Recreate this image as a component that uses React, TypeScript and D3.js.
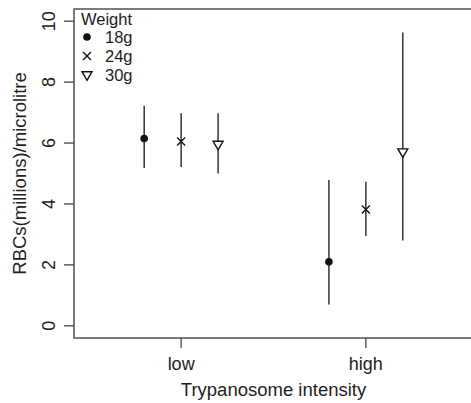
import { useRef, useEffect } from 'react';
import * as d3 from 'd3';

const W = 471;
const H = 403;

const intensities = ['low', 'high'];
const weights = ['18g', '24g', '30g'];
const shapes = ['dot', 'cross', 'triangle'];

// mean, lower, upper for each weight, per intensity
const lowMeans = [6.15, 6.05, 5.95];
const lowLower = [5.18, 5.21, 5.0];
const lowUpper = [7.22, 6.98, 6.98];
const highMeans = [2.1, 3.82, 5.7];
const highLower = [0.7, 2.95, 2.8];
const highUpper = [4.79, 4.73, 9.63];

const yTicks = [0, 2, 4, 6, 8, 10];

const FONT = '"Liberation Sans", Arial, Helvetica, sans-serif';
const INK = '#222';
const LINE = '#333';

export default function App() {
  const svgRef = useRef<SVGSVGElement>(null);

  useEffect(() => {
    const svg = d3.select(svgRef.current);
    svg.selectAll('*').remove();

    const left = 74;
    const right = 473;
    const top = 9;
    const bottom = 338;

    const x = d3.scaleLinear().domain([0.42, 2.58]).range([left, right]);
    const y = d3.scaleLinear().domain([-0.4, 10.4]).range([bottom, top]);
    const offset = 0.2;

    const rows = [
      ...weights.map((w, i) => ({ g: 0, i, m: lowMeans[i], lo: lowLower[i], hi: lowUpper[i] })),
      ...weights.map((w, i) => ({ g: 1, i, m: highMeans[i], lo: highLower[i], hi: highUpper[i] })),
    ];
    const px = (d) => x(d.g + 1 + (d.i - 1) * offset);

    // box
    svg.append('rect')
      .attr('x', left).attr('y', top)
      .attr('width', right - left).attr('height', bottom - top)
      .attr('fill', 'none').attr('stroke', '#444').attr('stroke-width', 1.4);

    // y axis
    const ya = svg.append('g').attr('transform', `translate(${left},0)`);
    ya.selectAll('line').data(yTicks).join('line')
      .attr('x1', 0).attr('x2', -10)
      .attr('y1', (d) => y(d)).attr('y2', (d) => y(d))
      .attr('stroke', '#444').attr('stroke-width', 1.3);
    ya.selectAll('text').data(yTicks).join('text')
      .attr('transform', (d) => `translate(-19,${y(d)}) rotate(-90)`)
      .attr('text-anchor', 'middle')
      .attr('font-family', FONT).attr('font-size', 18).attr('fill', INK)
      .text((d) => d);

    // x axis
    const xa = svg.append('g').attr('transform', `translate(0,${bottom})`);
    xa.selectAll('line').data(intensities).join('line')
      .attr('x1', (d, i) => x(i + 1)).attr('x2', (d, i) => x(i + 1))
      .attr('y1', 0).attr('y2', 10)
      .attr('stroke', '#444').attr('stroke-width', 1.3);
    xa.selectAll('text').data(intensities).join('text')
      .attr('x', (d, i) => x(i + 1)).attr('y', 32)
      .attr('text-anchor', 'middle')
      .attr('font-family', FONT).attr('font-size', 18).attr('fill', INK)
      .text((d) => d);

    // axis titles
    svg.append('text')
      .attr('x', (left + right) / 2).attr('y', 396)
      .attr('text-anchor', 'middle')
      .attr('font-family', FONT).attr('font-size', 18.5).attr('fill', INK)
      .text('Trypanosome intensity');
    svg.append('text')
      .attr('transform', `translate(26,${(top + bottom) / 2}) rotate(-90)`)
      .attr('text-anchor', 'middle')
      .attr('font-family', FONT).attr('font-size', 18.5).attr('fill', INK)
      .text('RBCs(millions)/microlitre');

    // error bars
    svg.append('g').selectAll('line').data(rows).join('line')
      .attr('x1', px).attr('x2', px)
      .attr('y1', (d) => y(d.lo)).attr('y2', (d) => y(d.hi))
      .attr('stroke', LINE).attr('stroke-width', 1.5);

    const drawSymbol = (g, shape, cx, cy) => {
      if (shape === 'dot') {
        g.append('circle').attr('cx', cx).attr('cy', cy).attr('r', 3.8).attr('fill', '#111');
      } else if (shape === 'cross') {
        const s = 4;
        g.append('path')
          .attr('d', `M${cx - s},${cy - s}L${cx + s},${cy + s}M${cx - s},${cy + s}L${cx + s},${cy - s}`)
          .attr('stroke', '#111').attr('stroke-width', 1.4).attr('fill', 'none');
      } else {
        const s = 5;
        g.append('path')
          .attr('d', `M${cx - s},${cy - 3.3}L${cx + s},${cy - 3.3}L${cx},${cy + 5.3}Z`)
          .attr('stroke', '#111').attr('stroke-width', 1.4).attr('fill', '#fff');
      }
    };

    const pts = svg.append('g');
    rows.forEach((d) => drawSymbol(pts, shapes[d.i], px(d), y(d.m)));

    // legend
    const lg = svg.append('g');
    lg.append('text')
      .attr('x', 81).attr('y', 25)
      .attr('font-family', FONT).attr('font-size', 16.5).attr('fill', INK)
      .text('Weight');
    weights.forEach((w, i) => {
      const cy = 37 + i * 19;
      drawSymbol(lg, shapes[i], 87, cy);
      lg.append('text')
        .attr('x', 105).attr('y', cy + 6)
        .attr('font-family', FONT).attr('font-size', 16.5).attr('fill', INK)
        .text(w);
    });
  }, []);

  return (
    <svg
      ref={svgRef}
      width={W}
      height={H}
      style={{ position: 'absolute', left: 0, top: 0, background: '#fff' }}
    />
  );
}
